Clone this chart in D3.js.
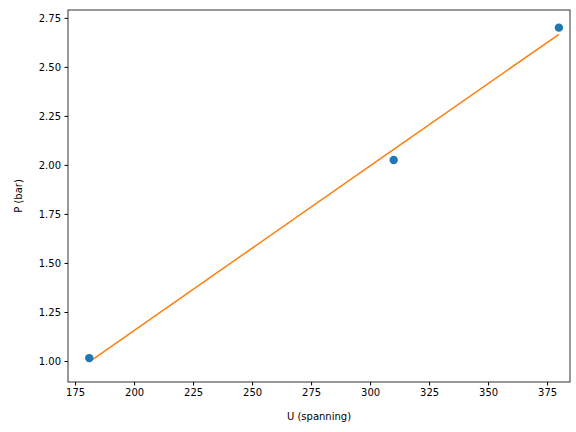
<!DOCTYPE html>
<html><head><meta charset="utf-8">
<script src="https://cdn.jsdelivr.net/npm/d3@7"></script>
<style>body{margin:0;background:#fff}text{font-family:"DejaVu Sans",sans-serif}</style>
</head><body>
<svg id="chart" width="576" height="432"></svg>
<script>
var uValues = [181, 310, 380];
var pValues = [1.015, 2.025, 2.70];
var fitValues = [0.996, 2.079, 2.666];
var xTicks = [175, 200, 225, 250, 275, 300, 325, 350, 375];
var yTicks = [1.00, 1.25, 1.50, 1.75, 2.00, 2.25, 2.50, 2.75];

var svg = d3.select("#chart");
var plotLeft = 68, plotRight = 570, plotTop = 10, plotBottom = 382;
var x = d3.scaleLinear().domain([172.0, 384.7]).range([plotLeft, plotRight]);
var y = d3.scaleLinear().domain([0.893, 2.79]).range([plotBottom, plotTop]);

svg.append("g").attr("transform", "translate(0," + plotBottom + ")")
	.call(d3.axisBottom(x).tickValues(xTicks).tickSize(3.5).tickPadding(3.5).tickFormat(d3.format("d")))
	.call(function(g) { g.select(".domain").remove(); });
svg.append("g").attr("transform", "translate(" + plotLeft + ",0)")
	.call(d3.axisLeft(y).tickValues(yTicks).tickSize(3.5).tickPadding(3.5).tickFormat(d3.format(".2f")))
	.call(function(g) { g.select(".domain").remove(); });
svg.selectAll(".tick text").attr("font-size", 10).attr("fill", "#000");
svg.selectAll(".tick line").attr("stroke", "#000");

var line = d3.line().x(function(d, i) { return x(uValues[i]); }).y(function(d) { return y(d); });
svg.append("path").datum(fitValues).attr("d", line)
	.attr("fill", "none").attr("stroke", "#ff7f0e").attr("stroke-width", 1.5);

svg.selectAll(".pt").data(pValues).enter().append("circle")
	.attr("cx", function(d, i) { return x(uValues[i]); })
	.attr("cy", function(d) { return y(d); })
	.attr("r", 4.2).attr("fill", "#1f77b4");

svg.append("rect").attr("x", plotLeft).attr("y", plotTop).attr("width", plotRight - plotLeft).attr("height", plotBottom - plotTop)
	.attr("fill", "none").attr("stroke", "#000").attr("stroke-width", 0.8);

svg.append("text").attr("x", (plotLeft + plotRight) / 2).attr("y", 420).attr("text-anchor", "middle")
	.attr("font-size", 10).text("U (spanning)");
svg.append("text").attr("transform", "translate(22," + (plotTop + plotBottom) / 2 + ") rotate(-90)")
	.attr("text-anchor", "middle").attr("font-size", 10).text("P (bar)");
</script>
</body></html>
